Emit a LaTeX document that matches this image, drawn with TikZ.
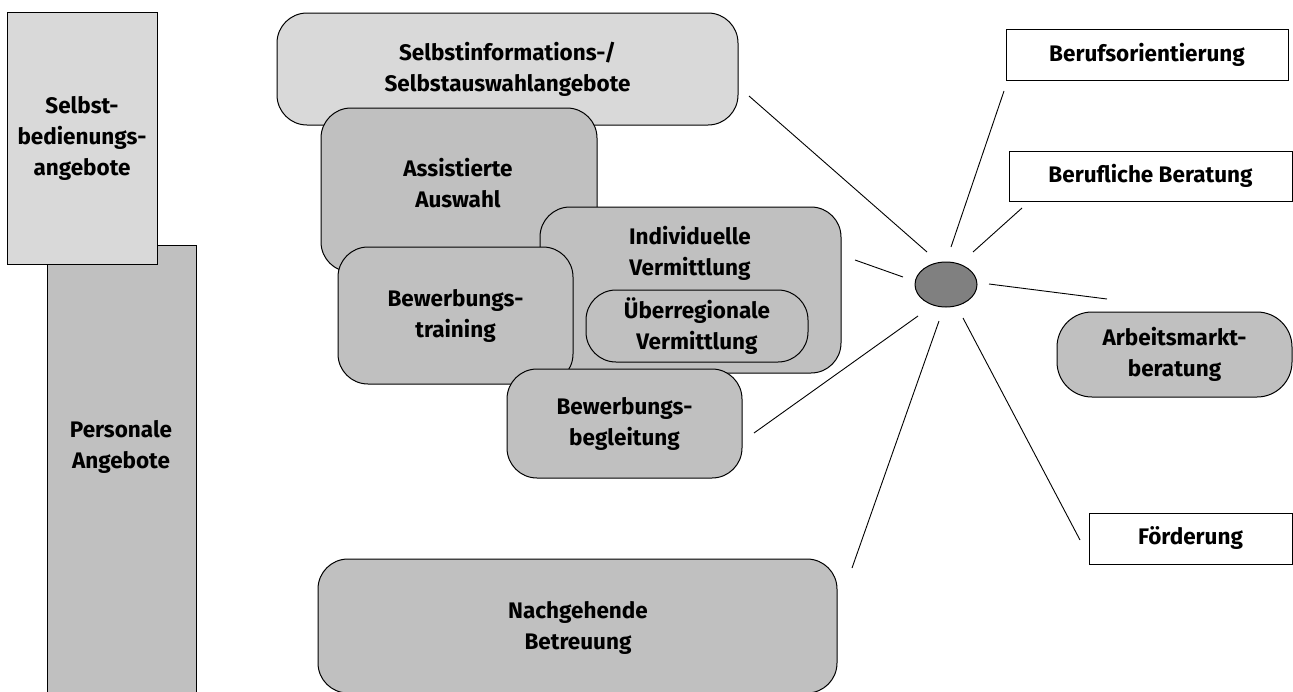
\documentclass[tikz,border=0pt]{standalone}
\usepackage{fontspec}
\setmainfont{Fira Sans}
\usetikzlibrary{shapes.geometric}
\definecolor{lightbox}{HTML}{D9D9D9}
\definecolor{midbox}{HTML}{C0C0C0}
\definecolor{hubgray}{HTML}{808080}
\begin{document}
\begin{tikzpicture}[x=1pt,y=-1pt,
  lbl/.style={font=\fontsize{22.5}{31}\selectfont\bfseries, align=center, inner sep=0pt},
  sqbox/.style={draw=black, line width=1pt, inner sep=0pt, font=\fontsize{22.5}{31}\selectfont\bfseries, align=center},
  rbox/.style={sqbox, rounded corners=30pt},
  spoke/.style={line width=0.9pt}]
\useasboundingbox (0,0) rectangle (1293,691);

% left column
\node[sqbox, fill=midbox, minimum width=149pt, minimum height=460pt] (pers) at (121.5,475) {};
\node[lbl] (perslbl) at (121,447) {Personale\\Angebote};
\node[sqbox, fill=lightbox, minimum width=150pt, minimum height=252pt] (bed) at (82,138) {Selbst-\\bedienungs-\\angebote};

% stacked boxes
\node[rbox, fill=lightbox, minimum width=461pt, minimum height=112pt] (info) at (507.5,69) {Selbstinformations-/\\Selbstauswahlangebote};
\node[rbox, fill=midbox, minimum width=276pt, minimum height=164pt] (assist) at (459,190) {};
\node[lbl] (assistlbl) at (458,183) {Assistierte\\Auswahl};
\node[rbox, fill=midbox, minimum width=301pt, minimum height=166pt] (indiv) at (690.5,290) {};
\node[lbl] (indivlbl) at (690,253) {Individuelle\\Vermittlung};
\node[rbox, fill=midbox, minimum width=222pt, minimum height=72pt] (ueber) at (697,326) {Überregionale\\Vermittlung};
\node[rbox, fill=midbox, minimum width=235pt, minimum height=137pt] (train) at (455.5,315.5) {Bewerbungs-\\training};
\node[rbox, fill=midbox, minimum width=235pt, minimum height=109pt] (begl) at (624.5,423.5) {Bewerbungs-\\begleitung};
\node[rbox, fill=midbox, minimum width=519pt, minimum height=134pt] (nach) at (577.5,626) {};
\node[lbl] (nachlbl) at (578,628) {Nachgehende\\Betreuung};

% hub
\node[ellipse, draw=black, line width=1pt, fill=hubgray, minimum width=62pt, minimum height=45pt, inner sep=0pt] (hub) at (946,284.5) {};

% right boxes
\node[sqbox, fill=white, minimum width=282pt, minimum height=51pt] (orient) at (1147,54.5) {Berufsorientierung};
\node[sqbox, fill=white, minimum width=283pt, minimum height=50pt] (berat) at (1150.5,176) {Berufliche Beratung};
\node[rbox, rounded corners=35pt, fill=midbox, minimum width=235pt, minimum height=85pt] (arbeit) at (1174.5,354.5) {Arbeitsmarkt-\\beratung};
\node[sqbox, fill=white, minimum width=203pt, minimum height=51pt] (foerd) at (1190.5,538.5) {Förderung};

% spoke end points
\coordinate (a1) at (749,96);   \coordinate (b1) at (927,252);
\coordinate (a2) at (1004,91);  \coordinate (b2) at (951,247);
\coordinate (a3) at (1022,208); \coordinate (b3) at (973,252);
\coordinate (a4) at (855,260);  \coordinate (b4) at (903,277);
\coordinate (a5) at (1107,299); \coordinate (b5) at (989,284);
\coordinate (a6) at (754,433);  \coordinate (b6) at (918,316);
\coordinate (a7) at (852,568);  \coordinate (b7) at (939,321);
\coordinate (a8) at (1080,540); \coordinate (b8) at (963,318);

\draw[spoke] (a1) -- (b1);
\draw[spoke] (a2) -- (b2);
\draw[spoke] (a3) -- (b3);
\draw[spoke] (a4) -- (b4);
\draw[spoke] (a5) -- (b5);
\draw[spoke] (a6) -- (b6);
\draw[spoke] (a7) -- (b7);
\draw[spoke] (a8) -- (b8);
\end{tikzpicture}
\end{document}
